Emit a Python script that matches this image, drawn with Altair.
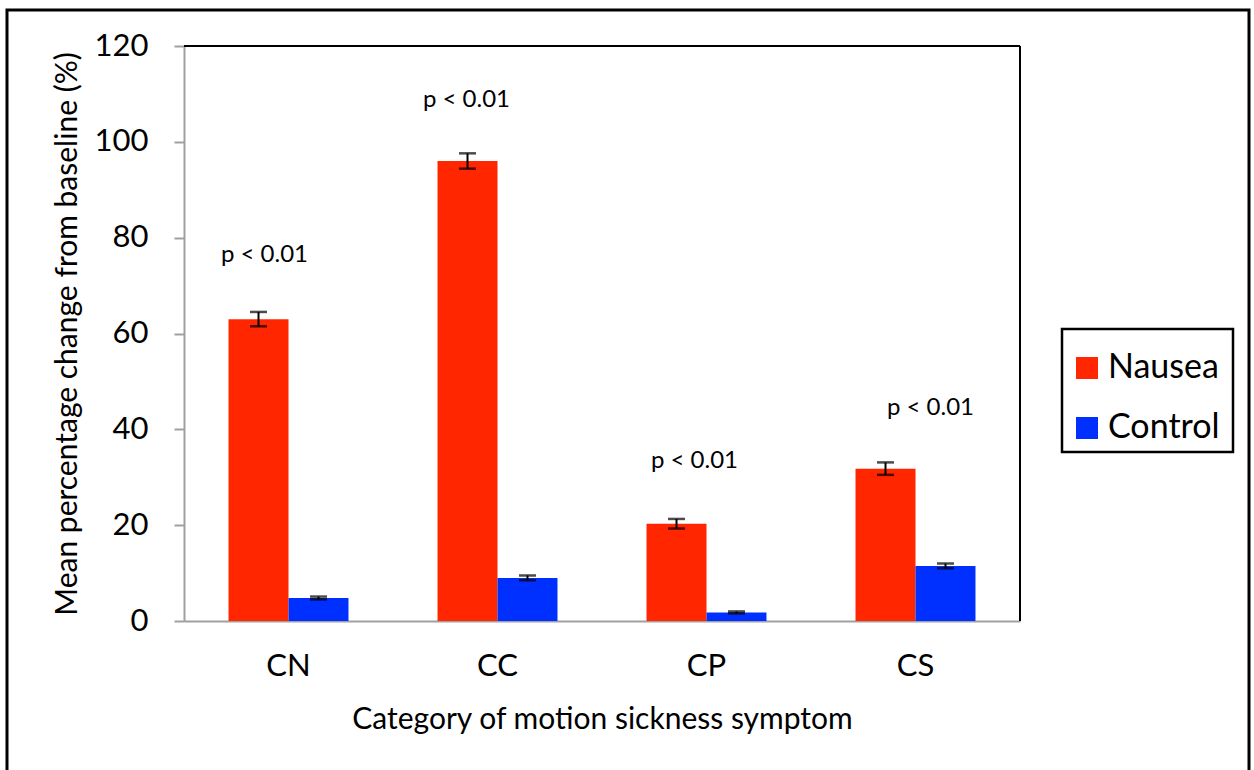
import altair as alt
import pandas as pd

# Mean percentage change from baseline per symptom category
categories = ["CN", "CC", "CP", "CS"]
groups = ["Nausea", "Control"]
nausea = [63.0, 96.0, 20.3, 31.8]
nausea_err = [1.5, 1.6, 1.0, 1.3]
control = [4.8, 9.0, 1.8, 11.5]
control_err = [0.3, 0.5, 0.2, 0.5]

# Significance annotations
p_labels = ["p < 0.01", "p < 0.01", "p < 0.01", "p < 0.01"]
p_label_y = [76.4, 108.8, 33.4, 44.5]
p_label_dx = [-24, -31, -12, 15]

colors = ["#ff2600", "#0030ff"]
FONT = "Lato"
W, H = 836, 575

rows = []
for i, c in enumerate(categories):
    rows.append({"category": c, "group": "Nausea", "value": nausea[i],
                 "lo": nausea[i] - nausea_err[i], "hi": nausea[i] + nausea_err[i]})
    rows.append({"category": c, "group": "Control", "value": control[i],
                 "lo": control[i] - control_err[i], "hi": control[i] + control_err[i]})
df = pd.DataFrame(rows)

ann = pd.DataFrame({"category": categories, "label": p_labels, "y": p_label_y})

x_axis = alt.Axis(title="Category of motion sickness symptom", labelAngle=0,
                  ticks=False, domainColor="#a0a0a0", domainWidth=2,
                  labelFontSize=31, labelPadding=30, labelColor="black",
                  titleFontSize=30, titleFontWeight="normal", titlePadding=23,
                  titleColor="black")
x_scale = alt.Scale(paddingInner=0.426, paddingOuter=0.213)
y_axis = alt.Axis(title="Mean percentage change from baseline (%)",
                  values=[0, 20, 40, 60, 80, 100, 120], grid=False,
                  tickSize=10, tickColor="#a0a0a0", tickWidth=2,
                  domainColor="#a0a0a0", domainWidth=2,
                  labelFontSize=31, labelPadding=26, labelColor="black",
                  titleFontSize=30, titleFontWeight="normal",
                  titlePadding=12, titleColor="black")
y_scale = alt.Scale(domain=[0, 120], nice=False)


def xcat():
    return alt.X("category:N", sort=categories, scale=x_scale, axis=x_axis)


def ycol(field):
    return alt.Y(f"{field}:Q", scale=y_scale, axis=y_axis)


xo_enc = alt.XOffset("group:N", sort=groups,
                     scale=alt.Scale(paddingInner=0, paddingOuter=0))

bars = alt.Chart(df).mark_bar(opacity=1).encode(
    x=xcat(),
    xOffset=xo_enc,
    y=ycol("value"),
    color=alt.Color("group:N", sort=groups,
                    scale=alt.Scale(domain=groups, range=colors),
                    legend=alt.Legend(title=None, orient="none",
                                      legendX=886, legendY=305,
                                      symbolType="square", symbolSize=484,
                                      symbolStrokeWidth=0, symbolOpacity=1,
                                      labelFontSize=34, labelColor="black",
                                      labelOffset=4, rowPadding=26,
                                      padding=0)),
)

err_rule = alt.Chart(df).mark_rule(color="black", strokeWidth=2).encode(
    x=xcat(), xOffset=xo_enc, y=ycol("lo"), y2="hi:Q",
)
cap_lo = alt.Chart(df).mark_tick(color="black", thickness=2.5, size=17, orient="horizontal").encode(
    x=xcat(), xOffset=xo_enc, y=ycol("lo"),
)
cap_hi = alt.Chart(df).mark_tick(color="black", thickness=2.5, size=17, orient="horizontal").encode(
    x=xcat(), xOffset=xo_enc, y=ycol("hi"),
)

texts = []
for i, c in enumerate(categories):
    texts.append(
        alt.Chart(ann[ann["category"] == c]).mark_text(
            fontSize=24, font=FONT, color="black", baseline="middle", dx=p_label_dx[i]
        ).encode(x=xcat(), y=ycol("y"), text="label:N")
    )

one = pd.DataFrame({"k": [0]})
top_line = alt.Chart(one).mark_rule(color="black", strokeWidth=2).encode(
    x=alt.value(0), x2=alt.value(W), y=alt.value(0))
right_line = alt.Chart(one).mark_rule(color="black", strokeWidth=2).encode(
    x=alt.value(W), y=alt.value(0), y2=alt.value(H))
legend_box = alt.Chart(one).mark_rect(fill=None, stroke="black", strokeWidth=2.5, clip=False).encode(
    x=alt.value(878), x2=alt.value(1049), y=alt.value(283), y2=alt.value(406))
outer = alt.Chart(one).mark_rect(fill=None, stroke="black", strokeWidth=3, clip=False).encode(
    x=alt.value(-177), x2=alt.value(1065), y=alt.value(-36), y2=alt.value(740))

chart = alt.layer(bars, err_rule, cap_lo, cap_hi, *texts, top_line, right_line,
                  legend_box, outer).properties(
    width=W, height=H,
    autosize=alt.AutoSizeParams(type="none"),
    padding={"left": 184, "top": 46, "right": 234, "bottom": 149},
    background="white",
).configure_view(stroke=None).configure(font=FONT)

chart.save("out.html", embed_options={"renderer": "svg", "actions": False})
